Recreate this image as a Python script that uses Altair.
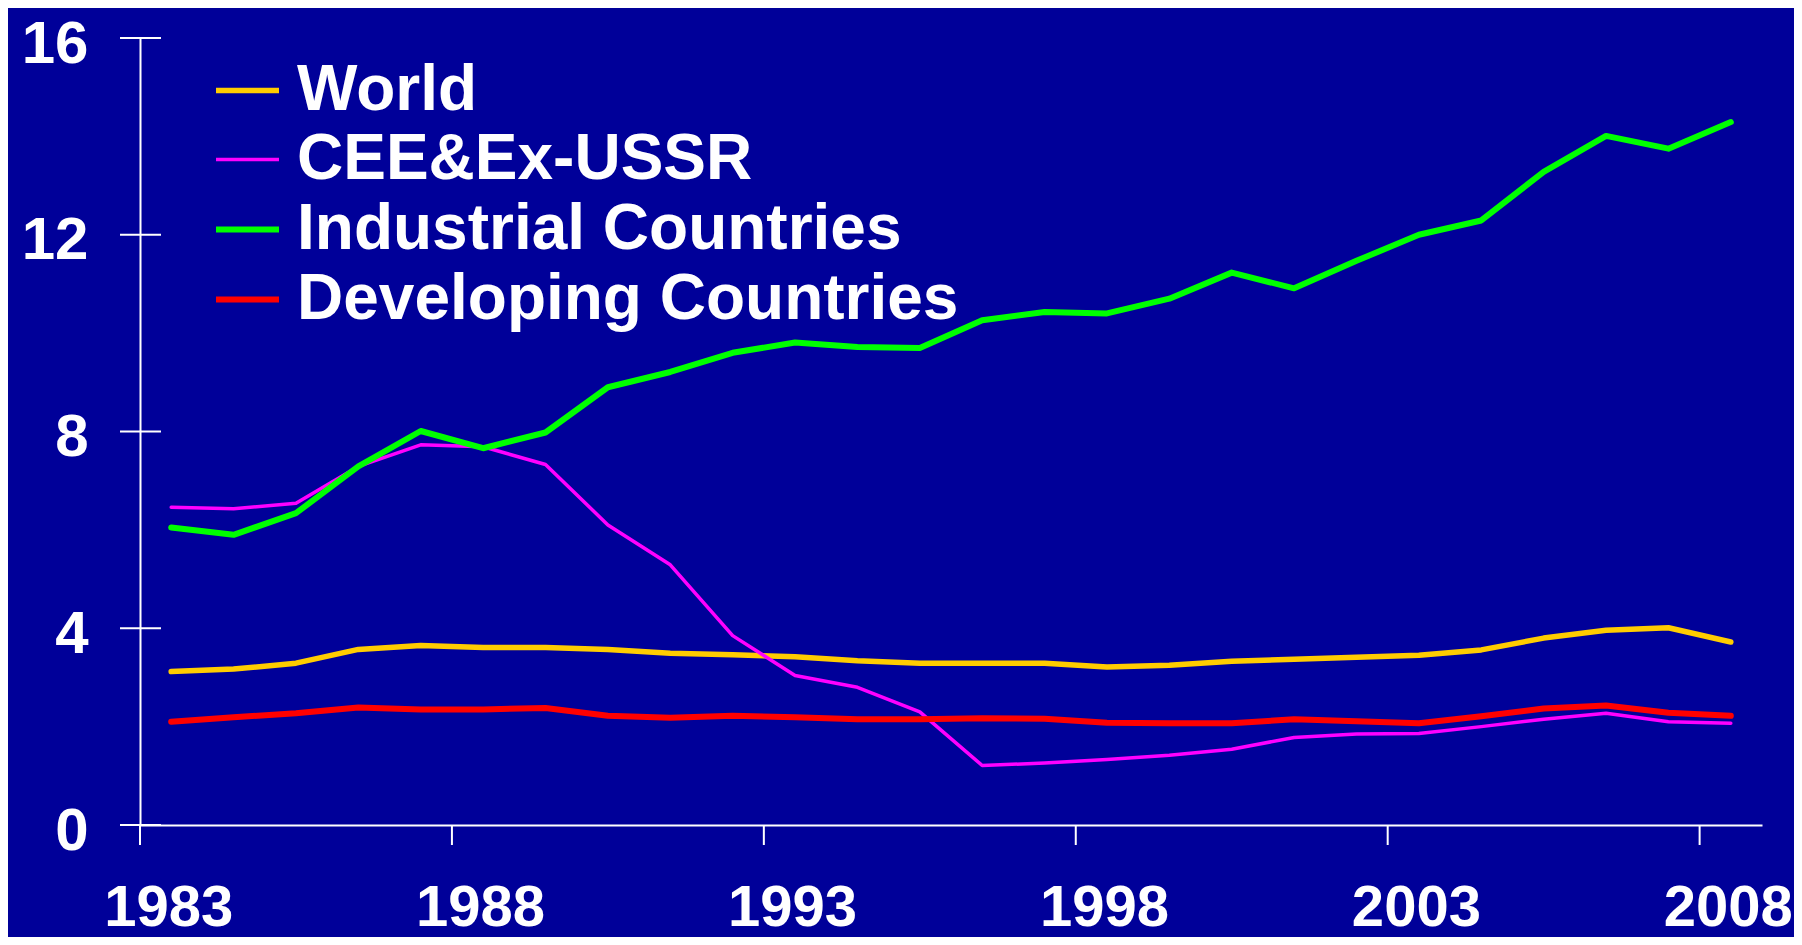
import altair as alt
import pandas as pd

years = list(range(1983, 2009))
world = [3.12, 3.17, 3.29, 3.57, 3.65, 3.61, 3.61, 3.57, 3.49, 3.46, 3.42, 3.34, 3.29,
         3.29, 3.29, 3.21, 3.25, 3.33, 3.37, 3.41, 3.45, 3.56, 3.80, 3.96, 4.01, 3.72]
cee = [6.46, 6.43, 6.54, 7.29, 7.73, 7.69, 7.33, 6.10, 5.29, 3.85, 3.04, 2.80, 2.30,
       1.21, 1.26, 1.33, 1.42, 1.54, 1.78, 1.85, 1.86, 2.00, 2.15, 2.27, 2.10, 2.07]
industrial = [6.05, 5.90, 6.34, 7.29, 8.01, 7.66, 7.98, 8.90, 9.21, 9.60, 9.81, 9.72, 9.70,
              10.26, 10.43, 10.40, 10.70, 11.23, 10.91, 11.47, 12.00, 12.29, 13.28, 14.01, 13.75, 14.29]
developing = [2.10, 2.19, 2.27, 2.39, 2.35, 2.35, 2.38, 2.22, 2.18, 2.22, 2.19, 2.15, 2.15,
              2.17, 2.16, 2.08, 2.07, 2.07, 2.15, 2.11, 2.07, 2.21, 2.37, 2.43, 2.28, 2.22]

series_names = ["World", "CEE&Ex-USSR", "Industrial Countries", "Developing Countries"]
series_colors = ["#FFCC00", "#FF00FF", "#00FF00", "#FF0000"]
series_widths = [5.5, 3.5, 6, 6]

x_label_years = [1983, 1988, 1993, 1998, 2003, 2008]
x_tick_positions = [1982.5, 1987.5, 1992.5, 1997.5, 2002.5, 2007.5]
y_tick_values = [0, 4, 8, 12, 16]

rows = []
for name, vals in zip(series_names, [world, cee, industrial, developing]):
    for yr, v in zip(years, vals):
        rows.append({"year": yr, "value": v, "series": name})
df = pd.DataFrame(rows)

W, H = 1622, 787
BG = "#000099"
FONT = "Liberation Sans"

xscale = alt.Scale(domain=[1982.5, 2008.5], nice=False, zero=False)
yscale = alt.Scale(domain=[0, 16], nice=False, zero=True)

xaxis = alt.Axis(
    values=x_label_years, format="d", title=None, ticks=False, tickSize=0,
    labelPadding=54, labelFontSize=58, labelFont=FONT, labelFontWeight="bold",
    labelColor="white", domainColor="white", domainWidth=2, grid=False,
    labelFlush=False, labelOverlap=False, labelOffset=-3)
yaxis = alt.Axis(
    values=y_tick_values, title=None, ticks=False, tickSize=0,
    labelPadding=52, labelFontSize=60, labelFont=FONT, labelFontWeight="bold",
    labelColor="white", domainColor="white", domainWidth=2, grid=False,
    labelFlush=False, labelOverlap=False, labelOffset=6)

legend = alt.Legend(
    title=None, orient="none", legendX=73, legendY=18, direction="vertical",
    symbolType="stroke", symbolSize=3969, labelFontSize=64, labelFont=FONT,
    labelFontWeight="bold", labelColor="white", labelOffset=15, labelLimit=2000,
    rowPadding=3, padding=0, offset=0,
)

lines = alt.Chart(df).mark_line(strokeCap="round", strokeJoin="round").encode(
    x=alt.X("year:Q", scale=xscale, axis=xaxis),
    y=alt.Y("value:Q", scale=yscale, axis=yaxis),
    color=alt.Color("series:N", scale=alt.Scale(domain=series_names, range=series_colors),
                    legend=legend),
    strokeWidth=alt.StrokeWidth("series:N", scale=alt.Scale(type="ordinal", domain=series_names,
                                                             range=series_widths),
                                legend=legend),
)

ytick_df = pd.DataFrame({"v": y_tick_values})
yticks = alt.Chart(ytick_df).mark_rule(color="white", strokeWidth=2).encode(
    y=alt.Y("v:Q", scale=yscale, axis=yaxis),
    x=alt.value(-20), x2=alt.value(21),
)

xtick_df = pd.DataFrame({"p": x_tick_positions})
xticks = alt.Chart(xtick_df).mark_rule(color="white", strokeWidth=2).encode(
    x=alt.X("p:Q", scale=xscale, axis=xaxis),
    y=alt.value(H), y2=alt.value(H + 20),
)

chart = alt.layer(lines, yticks, xticks).properties(
    width=W, height=H, background=BG,
    padding={"left": 132, "top": 30, "right": 32, "bottom": 112},
    autosize=alt.AutoSizeParams(type="none"),
).configure_view(stroke=None)

chart.save("out.html", embed_options={"renderer": "svg", "actions": False})
